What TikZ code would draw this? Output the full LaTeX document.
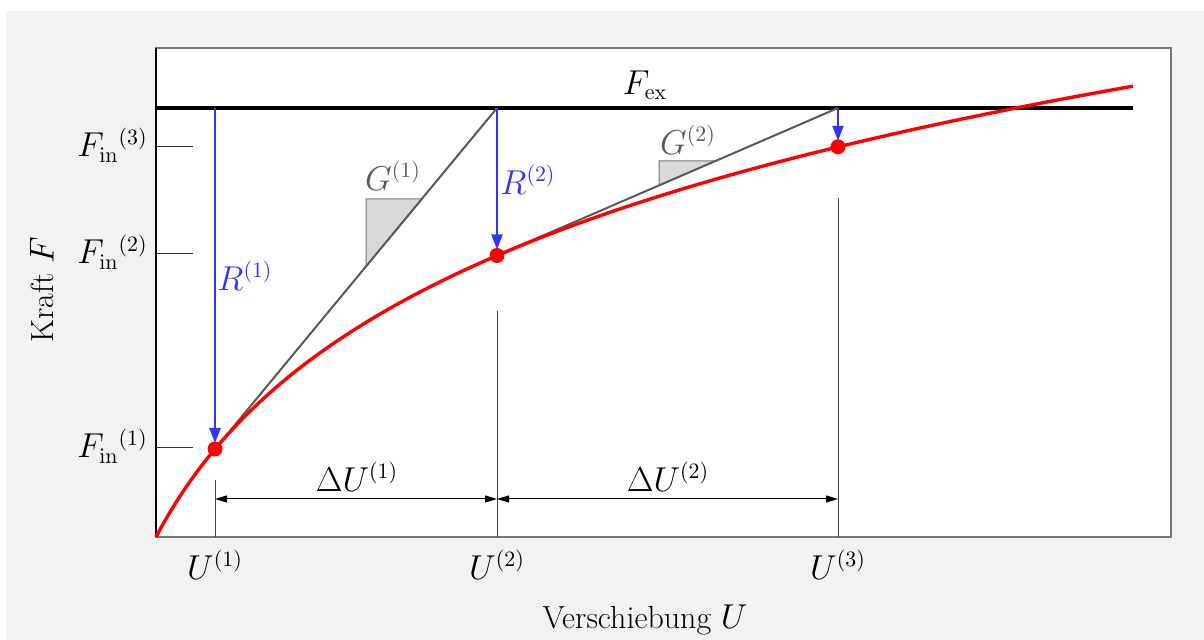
\documentclass[tikz,border=0pt]{standalone}
\usetikzlibrary{arrows.meta}
\definecolor{bggray}{HTML}{F2F2F2}
\definecolor{myblue}{HTML}{3333FF}
\definecolor{myred}{HTML}{FF0000}
\definecolor{tangray}{HTML}{595959}
\definecolor{trifill}{HTML}{D9D9D9}
\definecolor{boxgray}{HTML}{767676}
\begin{document}
\begin{tikzpicture}[x=0.5pt,y=-0.5pt,
  every node/.style={font=\fontsize{16}{19}\selectfont, inner sep=1pt},
  curve/.style={myred, line width=1.7pt, line join=round},
  tangent/.style={tangray, line width=1pt},
  slopetri/.style={fill=trifill, draw=boxgray, line width=0.5pt},
  resarrow/.style={myblue, line width=1.2pt, -{Triangle[length=7.5pt,width=5.5pt]}},
  dimarrow/.style={black, line width=0.5pt, {Triangle[length=6pt,width=3.5pt]}-{Triangle[length=6pt,width=3.5pt]}},
  guide/.style={black!75, line width=0.5pt},
  tick/.style={black!80, line width=0.5pt},
  dot/.style={circle, fill=myred, minimum size=7.5pt, inner sep=0pt},
  glabel/.style={text=tangray},
  rlabel/.style={text=myblue}
]
\useasboundingbox (0,0) rectangle (1204,640);
\fill[white] (0,0) rectangle (1204,640);
\fill[bggray] (6,11) rectangle (1204,640);
% plot box
\fill[white] (156,48) rectangle (1171,537);
\draw[boxgray, line width=0.6pt] (156,48) rectangle (1171,537);
\draw[black, line width=0.6pt] (156,48) -- (156,537);

% coordinates
\coordinate (T1) at (215,108);
\coordinate (T2) at (497,108);
\coordinate (T3) at (838,108);
\coordinate (P1) at (215,449.0);
\coordinate (P2) at (497,255.5);
\coordinate (P3) at (838,146.8);
\coordinate (Fs) at (156,108);
\coordinate (Fe) at (1133,108);

% external force line
\draw[black, line width=2pt] (Fs) -- (Fe);
\node (fex) at (645,85) {$F_{\mathrm{ex}}$};

% tick marks on F axis
\coordinate (y3a) at (156,147); \coordinate (y3b) at (193,147);
\coordinate (y2a) at (156,254); \coordinate (y2b) at (193,254);
\coordinate (y1a) at (156,448); \coordinate (y1b) at (193,448);
\draw[tick] (y3a) -- (y3b);
\draw[tick] (y2a) -- (y2b);
\draw[tick] (y1a) -- (y1b);
\node[anchor=east] (fin3) at (150,145) {$F_{\mathrm{in}}{}^{(3)}$};
\node[anchor=east] (fin2) at (150,252) {$F_{\mathrm{in}}{}^{(2)}$};
\node[anchor=east] (fin1) at (150,446) {$F_{\mathrm{in}}{}^{(1)}$};

% guide lines
\coordinate (g1a) at (215,480); \coordinate (g1b) at (215,537);
\coordinate (g2a) at (497,311); \coordinate (g2b) at (497,537);
\coordinate (g3a) at (838,198); \coordinate (g3b) at (838,537);
\draw[guide] (g1a) -- (g1b);
\draw[guide] (g2a) -- (g2b);
\draw[guide] (g3a) -- (g3b);

% slope triangles
\filldraw[slopetri] (366,266.6) -- (366,199) -- (422.4,199) -- cycle;
\filldraw[slopetri] (659,185.2) -- (659,161) -- (715.5,161) -- cycle;

% tangents
\draw[tangent] (P1) -- (T2);
\draw[tangent] (P2) -- (T3);
\node[glabel] (g1) at (393,176) {$G^{(1)}$};
\node[glabel] (g2) at (688,140) {$G^{(2)}$};

% curve
\draw[curve] plot[domain=156:1133, samples=150, smooth] (\x, {537-189.7*ln(1+0.01*(\x-156))});

% residual arrows
\draw[resarrow] (T1) -- ([yshift=3pt]P1);
\draw[resarrow] (T2) -- ([yshift=3pt]P2);
\draw[resarrow] (T3) -- ([yshift=3pt]P3);
\node[rlabel] (r1) at (245,276) {$R^{(1)}$};
\node[rlabel] (r2) at (528,180) {$R^{(2)}$};

% dots
\node[dot] (d1) at (P1) {};
\node[dot] (d2) at (P2) {};
\node[dot] (d3) at (P3) {};

% dimension arrows
\coordinate (a1) at (215,499);
\coordinate (a2) at (497,499);
\coordinate (a3) at (838,499);
\draw[dimarrow] (a1) -- (a2);
\draw[dimarrow] (a2) -- (a3);
\node (du1) at (357,477) {$\Delta U^{(1)}$};
\node (du2) at (668,477) {$\Delta U^{(2)}$};

% U labels
\node (u1) at (215,565) {$U^{(1)}$};
\node (u2) at (497,565) {$U^{(2)}$};
\node (u3) at (838,565) {$U^{(3)}$};

% axis titles
\node (xlab) at (645,620) {Verschiebung $U$};
\node[rotate=90] (ylab) at (42,290) {Kraft $F$};
\end{tikzpicture}
\end{document}
